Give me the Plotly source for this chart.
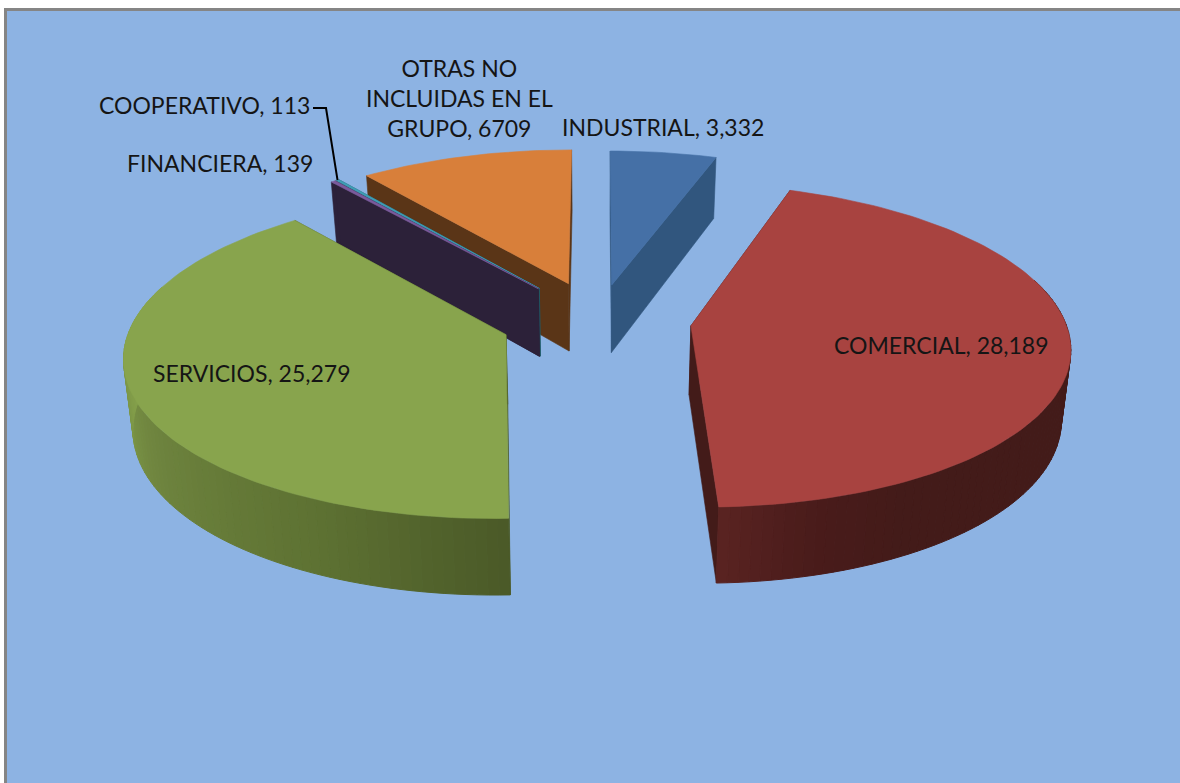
import math
import plotly.graph_objects as go

# ---- data ----
labels = ["INDUSTRIAL", "COMERCIAL", "SERVICIOS", "FINANCIERA", "COOPERATIVO", "OTRAS NO INCLUIDAS EN EL GRUPO"]
values = [3332, 28189, 25279, 139, 113, 6709]
label_texts = ["INDUSTRIAL, 3,332", "COMERCIAL, 28,189", "SERVICIOS, 25,279", "FINANCIERA, 139",
               "COOPERATIVO, 113", "OTRAS NO<br>INCLUIDAS EN EL<br>GRUPO, 6709"]

# ---- style / layout parameters ----
explode = [0.23, 0.25, 0.26, 0.26, 0.26, 0.25]
top_colors = ["#4570A6", "#A84340", "#88A44D", "#7A5B9C", "#3F9DB5", "#D87F3A"]
face_colors = ["#31567E", "#431B19", "#4B5A28", "#2C2139", "#1F5A68", "#5A3517"]
wall_stops = [
    [(0, "#31567E"), (360, "#31567E")],
    [(90, "#431B19"), (150, "#431B19"), (165, "#4A1C1B"), (178, "#5A2422")],
    [(178, "#4B5A28"), (205, "#5E7233"), (240, "#6F853F"), (270, "#84A04B"), (285, "#88A44D")],
    [(0, "#2C2139"), (360, "#2C2139")],
    [(0, "#1F5A68"), (360, "#1F5A68")],
    [(0, "#5A3517"), (360, "#5A3517")],
]
draw_order = [5, 4, 3, 0, 1, 2]
label_pos = [(663, 127), (941, 345), (251, 373), (220, 163), (204, 105), (459, 98)]
CX, CY, RX, TY, K = 598, 320, 374, 158, 0.12
DEPTH, DK, SHRINK = 69, 0.1, 0.98


def project(x, y, drop=False):
    w = 1 / (1 + K * y)
    sx = CX + RX * x * w
    sy = CY - TY * y * w
    if drop:
        sx = CX + (sx - CX) * SHRINK
        sy += DEPTH * (1 - DK * y)
    return sx, sy


def hex_rgb(c):
    return tuple(int(c[i:i + 2], 16) for i in (1, 3, 5))


def wall_color(stops, a):
    if a <= stops[0][0]:
        return stops[0][1]
    for (a0, c0), (a1, c1) in zip(stops, stops[1:]):
        if a <= a1:
            t = (a - a0) / (a1 - a0)
            r0, r1 = hex_rgb(c0), hex_rgb(c1)
            return "rgb(%d,%d,%d)" % tuple(r0[i] + (r1[i] - r0[i]) * t for i in range(3))
    return stops[-1][1]


def poly(fig, pts, color, width=0.6):
    xs = [p[0] for p in pts] + [pts[0][0]]
    ys = [p[1] for p in pts] + [pts[0][1]]
    fig.add_trace(go.Scatter(x=xs, y=ys, mode="lines", fill="toself", fillcolor=color,
                             line=dict(color=color, width=width), hoverinfo="skip", showlegend=False))


total = sum(values)
spans = []
acc = 0.0
for v in values:
    a = 360 * v / total
    spans.append((acc, acc + a))
    acc += a

fig = go.Figure()
geom = {}
for i in draw_order:
    a0, a1 = spans[i]
    m = math.radians((a0 + a1) / 2)
    ox, oy = explode[i] * math.sin(m), explode[i] * math.cos(m)

    def rim(a):
        t = math.radians(a)
        return ox + math.sin(t), oy + math.cos(t)

    n = max(2, int((a1 - a0) / 1.5))
    angles = [a0 + (a1 - a0) * j / n for j in range(n + 1)]
    top = [project(ox, oy)] + [project(*rim(a)) for a in angles]
    geom[i] = top
    # cut faces
    for a in (a0, a1):
        rx_, ry_ = rim(a)
        poly(fig, [project(ox, oy), project(rx_, ry_), project(rx_, ry_, True), project(ox, oy, True)], face_colors[i])
    # outer wall, split in shaded strips
    for a, b in zip(angles, angles[1:]):
        if math.cos(math.radians((a + b) / 2)) < 0.3:
            ra, rb = rim(a), rim(b)
            poly(fig, [project(*ra), project(*rb), project(*rb, True), project(*ra, True)],
                 wall_color(wall_stops[i], (a + b) / 2), width=1)
    poly(fig, top, top_colors[i])

# leader line of the smallest label, ending on its slice
end = geom[4][len(geom[4]) // 2]
fig.add_trace(go.Scatter(x=[313, 326, end[0]], y=[108, 108, end[1]], mode="lines",
                         line=dict(color="#000000", width=2), hoverinfo="skip", showlegend=False))

annotations = [dict(x=x, y=y, text=t, showarrow=False, xanchor="center", yanchor="middle",
                    font=dict(family="Lato", size=23, color="#151515"), align="center")
               for (x, y), t in zip(label_pos, label_texts)]

fig.update_layout(
    width=1180, height=783, margin=dict(l=0, r=0, t=0, b=0),
    paper_bgcolor="#FFFFFF", plot_bgcolor="#FFFFFF", showlegend=False,
    xaxis=dict(range=[0, 1180], visible=False, fixedrange=True),
    yaxis=dict(range=[783, 0], visible=False, fixedrange=True),
    annotations=annotations,
    shapes=[dict(type="rect", xref="x", yref="y", x0=5.5, y0=9.5, x1=1190, y1=800,
                 fillcolor="#8DB3E3", line=dict(color="#858585", width=3), layer="below")],
)
fig.write_html("out.html", config=dict(displayModeBar=False),
               post_script="document.body.style.margin='0';document.documentElement.style.overflow='hidden';")
